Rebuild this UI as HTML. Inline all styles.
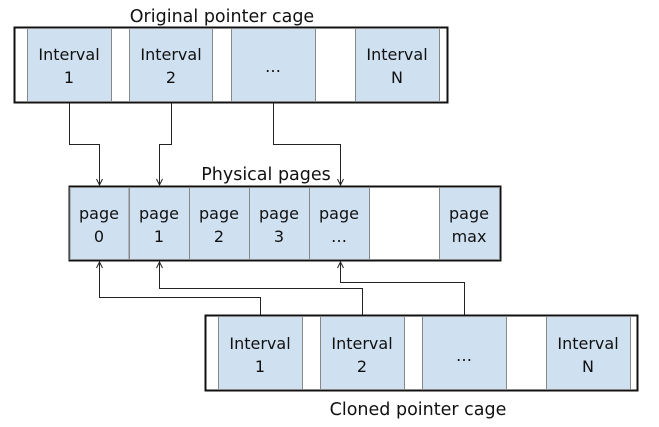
<!DOCTYPE html>
<html><head><style>body{margin:0;background:#fff}svg{display:block}text{font-family:"DejaVu Sans","Liberation Sans",sans-serif;font-size:16px;fill:#111;text-anchor:middle}.t{font-size:17.5px}</style></head><body>
<svg width="659" height="427" viewBox="0 0 659 427" xmlns="http://www.w3.org/2000/svg">
<defs><marker id="a" markerWidth="8" markerHeight="8" refX="7" refY="4" orient="auto" markerUnits="userSpaceOnUse"><path d="M1,1 L7,4 L1,7" fill="none" stroke="#222" stroke-width="1"/></marker></defs>
<text class="t" x="222" y="22">Original pointer cage</text>
<rect x="14.5" y="27.5" width="433" height="75" fill="#fff" stroke="#111" stroke-width="2"/>
<g fill="#cfe0f1" stroke="#888">
<rect x="27.5" y="28.5" width="84" height="73"/><rect x="129.5" y="28.5" width="83" height="73"/><rect x="231.5" y="28.5" width="84" height="73"/><rect x="355.5" y="28.5" width="84" height="73"/>
</g>
<text x="69" y="60">Interval</text><text x="69" y="83">1</text>
<text x="171" y="60">Interval</text><text x="171" y="83">2</text>
<text x="273" y="72">…</text>
<text x="397" y="60">Interval</text><text x="397" y="83">N</text>
<g fill="none" stroke="#222" stroke-width="1">
<path d="M69.5 103V144.5H99.5V185" marker-end="url(#a)"/>
<path d="M171.5 103V144.5H159.5V185" marker-end="url(#a)"/>
<path d="M273.5 103V144.5H340.5V185" marker-end="url(#a)"/>
</g>
<text class="t" x="266" y="180">Physical pages</text>
<rect x="69.5" y="186.5" width="431" height="74" fill="#fff" stroke="#111" stroke-width="2"/>
<g fill="#cfe0f1" stroke="#888">
<rect x="70" y="187.5" width="59" height="72"/><rect x="129.5" y="187.5" width="60" height="72"/><rect x="189.5" y="187.5" width="60" height="72"/><rect x="249.5" y="187.5" width="60" height="72"/><rect x="309.5" y="187.5" width="60" height="72"/><rect x="439.5" y="187.5" width="60" height="72"/>
</g>
<text x="99" y="219">page</text><text x="99" y="242">0</text>
<text x="159" y="219">page</text><text x="159" y="242">1</text>
<text x="219" y="219">page</text><text x="219" y="242">2</text>
<text x="279" y="219">page</text><text x="279" y="242">3</text>
<text x="339" y="219">page</text><text x="339" y="242">…</text>
<text x="469" y="219">page</text><text x="469" y="242">max</text>
<g fill="none" stroke="#222" stroke-width="1">
<path d="M260.5 315V297.5H99.5V262" marker-end="url(#a)"/>
<path d="M362.5 315V288.5H159.5V262" marker-end="url(#a)"/>
<path d="M464.5 315V282.5H340.5V262" marker-end="url(#a)"/>
</g>
<rect x="205.5" y="315.5" width="432" height="75" fill="#fff" stroke="#111" stroke-width="2"/>
<g fill="#cfe0f1" stroke="#888">
<rect x="218.5" y="316.5" width="84" height="73"/><rect x="320.5" y="316.5" width="84" height="73"/><rect x="422.5" y="316.5" width="84" height="73"/><rect x="546.5" y="316.5" width="84" height="73"/>
</g>
<text x="260" y="349">Interval</text><text x="260" y="372">1</text>
<text x="362" y="349">Interval</text><text x="362" y="372">2</text>
<text x="464" y="361">…</text>
<text x="588" y="349">Interval</text><text x="588" y="372">N</text>
<text class="t" x="418" y="415">Cloned pointer cage</text>
</svg>
</body></html>
